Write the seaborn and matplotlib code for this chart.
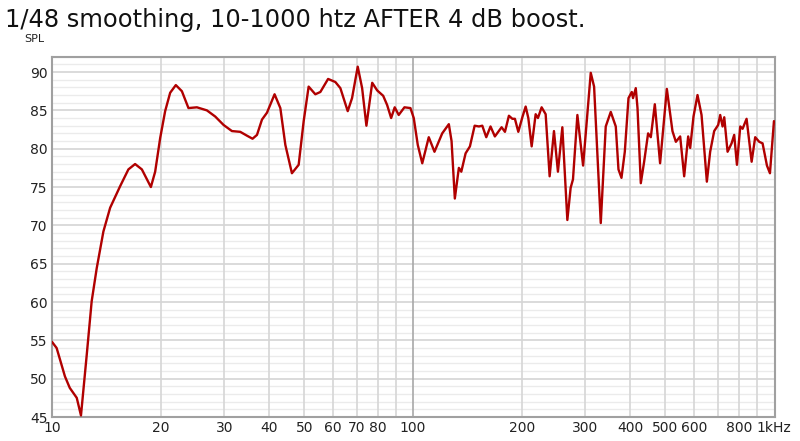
import matplotlib
matplotlib.use('Agg')
import matplotlib.pyplot as plt
import seaborn as sns
from matplotlib.ticker import FixedLocator, NullFormatter, NullLocator

# frequency response (Hz, dB SPL)
freq = [10.0, 10.3, 10.86, 11.2, 11.71, 12.03, 12.48, 12.88, 13.3, 13.88,
        14.49, 15.44, 16.28, 16.99, 17.74, 18.79, 19.31, 19.94, 20.58, 21.25,
        22.03, 22.9, 23.88, 25.2, 26.86, 28.32, 29.87, 31.51, 33.23, 34.68,
        35.94, 36.97, 38.17, 39.41, 41.36, 42.91, 44.3, 46.2, 48.23, 49.8,
        51.4, 53.64, 55.39, 58.19, 60.95, 62.93, 65.95, 67.8, 70.3, 72.3,
        74.3, 77.1, 79.6, 82.7, 84.8, 87.0, 89.0, 91.3, 94.7, 98.4,
        100.5, 103.1, 106.1, 110.6, 114.7, 120.5, 125.7, 127.9, 130.6, 134.0,
        136.1, 139.9, 143.8, 148.2, 152.3, 155.6, 159.6, 164.0, 168.6, 176.0,
        179.8, 184.4, 188.5, 191.6, 195.8, 200.9, 205.2, 208.7, 213.2, 218.7,
        221.9, 227.2, 233.1, 239.1, 245.8, 252.1, 259.3, 267.7, 273.4, 277.5,
        285.4, 296.0, 310.8, 317.5, 331.3, 342.0, 353.1, 364.6, 370.9, 378.1,
        386.2, 395.4, 403.8, 407.0, 414.2, 418.8, 427.7, 436.9, 448.1, 455.9,
        467.7, 483.7, 505.0, 523.4, 534.9, 549.8, 564.0, 578.6, 586.1, 598.6,
        614.1, 630.1, 651.8, 665.7, 683.0, 700.7, 709.7, 720.6, 728.3, 743.9,
        763.2, 776.0, 789.7, 806.6, 818.7, 839.8, 867.3, 887.2, 910.4, 930.0,
        956.3, 974.8, 1000.0]
spl = [54.8, 54.0, 50.3, 48.8, 47.5, 45.2, 53.1, 60.1, 64.4, 69.2,
       72.3, 75.1, 77.3, 78.0, 77.3, 75.0, 77.0, 81.4, 84.9, 87.3,
       88.3, 87.5, 85.3, 85.4, 85.0, 84.2, 83.1, 82.3, 82.2, 81.7,
       81.3, 81.8, 83.8, 84.7, 87.1, 85.3, 80.5, 76.8, 77.9, 83.6,
       88.1, 87.1, 87.4, 89.1, 88.7, 87.9, 84.9, 86.6, 90.7, 87.9,
       83.0, 88.6, 87.6, 86.9, 85.7, 84.0, 85.4, 84.4, 85.4, 85.3,
       84.0, 80.5, 78.1, 81.5, 79.6, 82.0, 83.2, 81.0, 73.5, 77.5,
       77.0, 79.4, 80.3, 83.0, 82.9, 83.0, 81.5, 82.9, 81.6, 82.8,
       82.2, 84.3, 83.9, 83.9, 82.2, 84.1, 85.5, 84.0, 80.3, 84.5,
       84.0, 85.4, 84.5, 76.4, 82.3, 77.0, 82.8, 70.7, 74.9, 76.0,
       84.4, 77.8, 89.9, 88.1, 70.3, 82.9, 84.8, 82.9, 77.3, 76.2,
       79.6, 86.6, 87.4, 86.6, 87.9, 85.3, 75.5, 78.3, 82.0, 81.5,
       85.8, 78.1, 87.8, 82.3, 80.9, 81.6, 76.4, 81.6, 80.1, 84.2,
       87.0, 84.4, 75.7, 79.6, 82.3, 83.1, 84.4, 82.9, 84.1, 79.6,
       80.7, 81.8, 77.9, 82.9, 82.6, 83.9, 78.3, 81.5, 80.9, 80.7,
       77.8, 76.8, 83.6]

tick_vals = [10, 20, 30, 40, 50, 60, 70, 80, 100, 200, 300, 400, 500, 600, 800, 1000]
tick_labels = ['10', '20', '30', '40', '50', '60', '70', '80', '100',
               '200', '300', '400', '500', '600', '800', '1kHz']
grid_freqs = [20, 30, 40, 50, 60, 70, 80, 90, 200, 300, 400, 500, 600, 700, 800, 900]

sns.set_style('white')
plt.rcParams['font.family'] = ['DejaVu Sans']

fig = plt.figure(figsize=(8, 4.41), dpi=100)
ax = fig.add_axes([0.065, 0.0544, 0.904, 0.817])

# grid: 1 dB light lines, 5 dB darker, vertical decade lines
for v in range(45, 93):
    if v % 5 == 0:
        ax.axhline(v, color='#d4d4d4', lw=1.2, zorder=0)
    else:
        ax.axhline(v, color='#ebebeb', lw=1.0, zorder=0)
for f in grid_freqs:
    ax.axvline(f, color='#d6d6d6', lw=1.2, zorder=0)
ax.axvline(100, color='#a8a8a8', lw=1.2, zorder=0)

sns.lineplot(x=freq, y=spl, ax=ax, color='#b00000', lw=1.7, estimator=None, sort=False, zorder=3)

ax.set_xscale('log')
ax.set_xlim(10, 1008)
ax.set_ylim(45, 92)
ax.xaxis.set_major_locator(FixedLocator(tick_vals))
ax.set_xticklabels(tick_labels)
ax.xaxis.set_minor_locator(NullLocator())
ax.xaxis.set_minor_formatter(NullFormatter())
ax.set_yticks(range(45, 91, 5))
ax.tick_params(axis='both', length=0, labelsize=10, colors='#222222', pad=3)

for s in ax.spines.values():
    s.set_color('#a0a0a0')
    s.set_linewidth(1.5)

ax.text(-0.01, 1.035, 'SPL', transform=ax.transAxes, ha='right', va='bottom', fontsize=8, color='#222222')
fig.text(0.006, 0.955, '1/48 smoothing, 10-1000 htz AFTER 4 dB boost.', fontsize=17.4, ha='left', va='center', color='#111111')

plt.savefig('out.png', dpi=100)
